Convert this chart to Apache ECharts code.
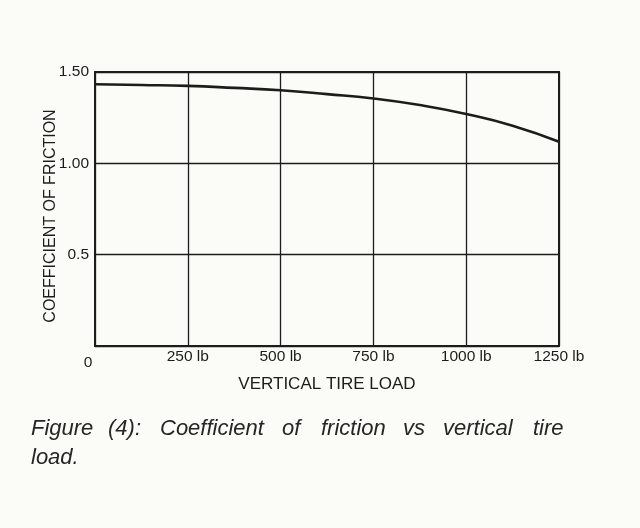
<!DOCTYPE html>
<html>
<head>
<meta charset="utf-8">
<script src="https://cdn.jsdelivr.net/npm/echarts@6/dist/echarts.min.js"></script>
<style>
  html, body { margin: 0; padding: 0; background: #fbfbf7; }
  #chart { width: 640px; height: 528px; }
</style>
</head>
<body>
<div id="chart"></div>
<script>
// vertical tire load (lb) and the friction coefficient
const loads = [0, 125, 250, 375, 500, 625, 750, 875, 1000, 1125, 1250];
const friction = [1.433, 1.429, 1.424, 1.413, 1.4, 1.379, 1.355, 1.319, 1.27, 1.206, 1.118];

const xTickLabels = { 0: "0", 250: "250 lb", 500: "500 lb", 750: "750 lb", 1000: "1000 lb", 1250: "1250 lb" };
const yTickLabels = { 0.5: "0.5", 1: "1.00", 1.5: "1.50" };

const captionWords = ["Figure", "(4):", "Coefficient", "of", "friction", "vs", "vertical", "tire"];
const captionLast = "load.";

const ink = "#1c1c1c";
const font = "Liberation Sans, Arial, sans-serif";

// the printed caption is justified, so each word of line one gets its own left edge
const wordLeft = [31, 108, 160, 282, 321, 403, 443, 533];

var chart = echarts.init(document.getElementById("chart"));

var captionGraphics = captionWords.map((w, i) => ({
  type: "text",
  left: wordLeft[i],
  top: 418,
  style: { text: w, fill: "#262626", font: "italic 22px " + font },
}));
captionGraphics.push({
  type: "text",
  left: 31,
  top: 447,
  style: { text: captionLast, fill: "#262626", font: "italic 22px " + font },
});

var option = {
  backgroundColor: "#fbfbf7",
  animation: false,
  grid: {
    left: 95,
    right: 81,
    top: 72,
    bottom: 182,
    show: true,
    borderColor: ink,
    borderWidth: 2,
  },
  xAxis: {
    type: "value",
    min: 0,
    max: 1250,
    interval: 250,
    name: "VERTICAL TIRE LOAD",
    nameLocation: "middle",
    nameGap: 28,
    nameTextStyle: { color: ink, fontSize: 17, fontFamily: font },
    axisLine: { lineStyle: { color: ink, width: 2 } },
    axisTick: { show: false },
    splitLine: { lineStyle: { color: ink, width: 1.3 } },
    axisLabel: {
      color: ink,
      fontSize: 15.5,
      fontFamily: font,
      margin: 3,
      formatter: (v) => (v === 0 ? "{zero|0}" : xTickLabels[v]),
      rich: {
        zero: { color: ink, fontSize: 15.5, fontFamily: font, padding: [6, 14, 0, 0] },
      },
    },
  },
  yAxis: {
    type: "value",
    min: 0,
    max: 1.5,
    interval: 0.5,
    name: "COEFFICIENT OF FRICTION",
    nameLocation: "middle",
    nameGap: 36,
    nameMoveOverlap: false,
    nameTextStyle: { color: ink, fontSize: 16, fontFamily: font, padding: [0, 14, 0, 0] },
    axisLine: { show: true, lineStyle: { color: ink, width: 2 } },
    axisTick: { show: false },
    splitLine: { lineStyle: { color: ink, width: 1.3 } },
    axisLabel: {
      color: ink,
      fontSize: 15.5,
      fontFamily: font,
      margin: 6,
      showMinLabel: false,
      formatter: (v) => yTickLabels[v] || "",
    },
  },
  series: [
    {
      type: "line",
      data: loads.map((x, i) => [x, friction[i]]),
      smooth: true,
      showSymbol: false,
      lineStyle: { color: ink, width: 2.6 },
    },
  ],
  graphic: captionGraphics,
};

chart.setOption(option);
</script>
</body>
</html>
